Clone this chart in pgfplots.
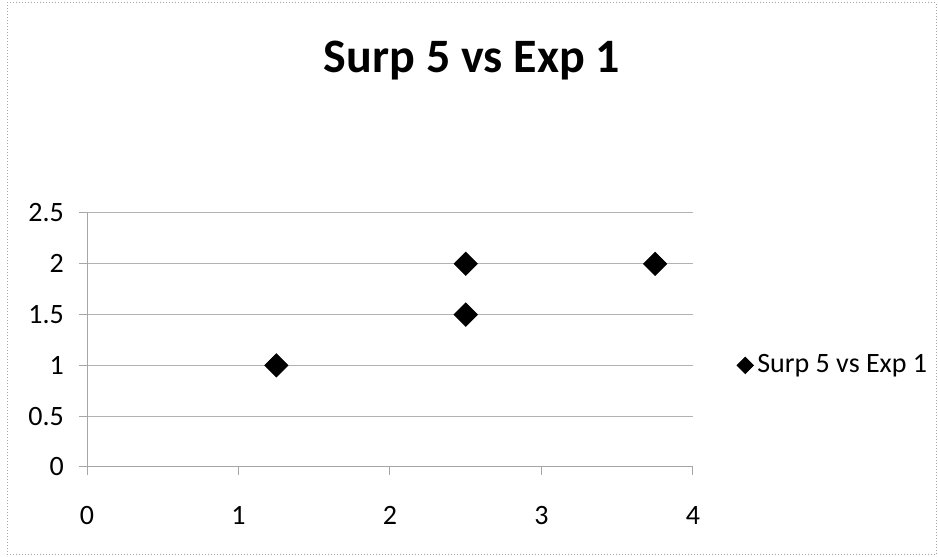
\documentclass[border=0pt]{standalone}
\usepackage{fontspec}
\setmainfont{Carlito}
\usepackage{pgfplots}
\pgfplotsset{compat=1.18}
\begin{document}
\begin{tikzpicture}[x=1pt,y=1pt]
\path[use as bounding box] (0,0) rectangle (469,278.5);
\draw[gray!70, densely dotted, line width=0.5pt] (3.5,1) rectangle (468,277);
\node[font=\fontsize{24}{28}\selectfont\bfseries, anchor=base] at (236,242) {Surp 5 vs Exp 1};
\begin{axis}[
  at={(43.5pt,45pt)}, anchor=south west,
  scale only axis, width=303pt, height=127pt,
  xmin=0, xmax=4, ymin=0, ymax=2.5,
  xtick={0,1,2,3,4}, ytick={0,0.5,1,1.5,2,2.5},
  axis x line=bottom, axis y line=left,
  axis line style={gray!70, line width=0.5pt, -},
  ymajorgrids, grid style={gray!60, line width=0.5pt},
  tick style={gray!70, line width=0.5pt},
  major tick length=4pt,
  xtick align=outside, ytick align=outside,
  tick label style={font=\fontsize{14}{16}\selectfont},
  /pgf/number format/assume math mode=true,
  xticklabel style={yshift=-12pt},
  yticklabel style={xshift=-4pt},
  clip=false,
  legend style={at={(1.062,0.40)}, anchor=west, draw=none, fill=none, font=\fontsize{14}{16}\selectfont},
  legend cell align=left,
]
\addplot[only marks, mark=square*, mark size=4.1pt, mark options={rotate=45, fill=black, draw=black},
  legend image code/.code={\draw[mark=square*, mark size=2.9pt, mark options={rotate=45, fill=black, draw=black}] plot coordinates {(0.2cm,0cm)};}]
  coordinates {(1.25,1) (2.5,2) (2.5,1.5) (3.75,2)};
\addlegendentry{Surp 5 vs Exp 1}
\end{axis}
\end{tikzpicture}
\end{document}
